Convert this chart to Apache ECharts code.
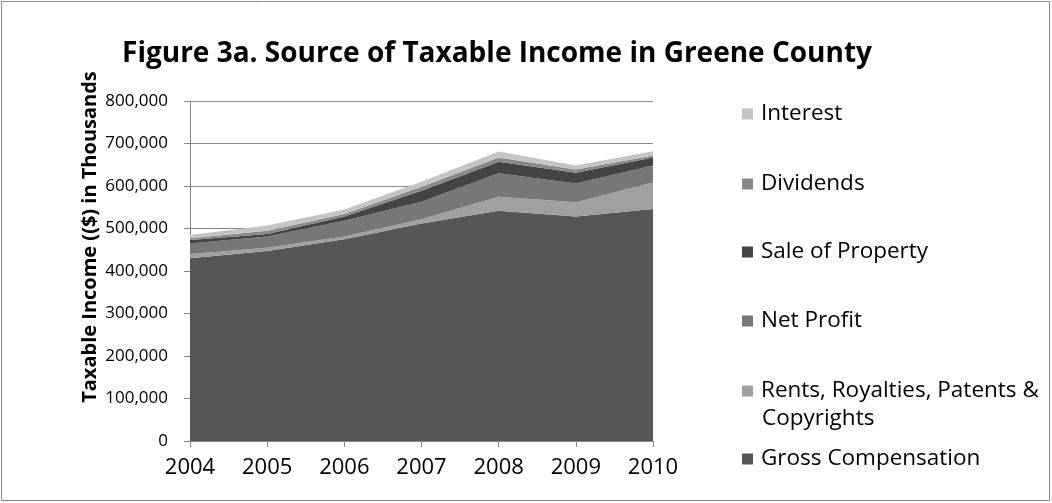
<!DOCTYPE html>
<html><head><meta charset="utf-8">
<script src="https://cdn.jsdelivr.net/npm/echarts@6/dist/echarts.min.js"></script>
<style>html,body{margin:0;padding:0;background:#fff}#c{width:1052px;height:503px}</style>
</head><body><div id="c"></div>
<script>
const years = ['2004','2005','2006','2007','2008','2009','2010'];
const grossCompensation = [430000,447000,475000,512000,542000,528000,546000];
const rentsRoyalties   = [10000,8000,6000,10000,33000,34000,62000];
const netProfit        = [25000,26000,37000,41000,55000,44000,40000];
const saleOfProperty   = [8000,6000,10000,26000,27000,25000,19000];
const dividends        = [4000,8000,6000,9000,10000,8000,5000];
const interest         = [8000,12000,11000,12000,14000,9000,10000];
const yTicks = [0,100000,200000,300000,400000,500000,600000,700000,800000];

const FONT = '"Open Sans", "Noto Sans", sans-serif';
const seriesDefs = [
  {name:'Gross Compensation', label:'Gross Compensation', data:grossCompensation, color:'#565656', legendTop:445},
  {name:'Rents, Royalties, Patents & Copyrights', label:'Rents, Royalties, Patents &', data:rentsRoyalties, color:'#a0a0a0', legendTop:377},
  {name:'Net Profit', label:'Net Profit', data:netProfit, color:'#777777', legendTop:307},
  {name:'Sale of Property', label:'Sale of Property', data:saleOfProperty, color:'#444444', legendTop:238},
  {name:'Dividends', label:'Dividends', data:dividends, color:'#8a8a8a', legendTop:170},
  {name:'Interest', label:'Interest', data:interest, color:'#c4c4c4', legendTop:100}
];

const chart = echarts.init(document.getElementById('c'), null, {renderer:'canvas'});
chart.setOption({
  animation:false,
  backgroundColor:'#fff',
  title:{text:'Figure 3a. Source of Taxable Income in Greene County', left:497, top:40, textAlign:'center', padding:0,
    textStyle:{fontFamily:FONT, fontWeight:'bold', fontSize:28, color:'#000'}},
  graphic:[
    {type:'rect', shape:{x:1.5,y:1.5,width:1048,height:499}, style:{fill:'none', stroke:'#888', lineWidth:1}},
    {type:'text', left:762, top:407, style:{text:'Copyrights', font:'22.5px "Open Sans", sans-serif', fill:'#000'}}
  ],
  legend: seriesDefs.map(s=>({
    data:[s.name], left:742, top:s.legendTop, padding:0, orient:'vertical', itemWidth:11, itemHeight:11, itemGap:0,
    icon:'rect', formatter:()=>s.label,
    textStyle:{fontFamily:FONT, fontSize:22.5, color:'#000', lineHeight:28, padding:[0,0,0,3]}
  })),
  grid:{left:190, right:399, top:101, bottom:62},
  xAxis:{type:'category', data:years, boundaryGap:false,
    axisLine:{lineStyle:{color:'#888'}}, axisTick:{show:true, alignWithLabel:true, length:6, lineStyle:{color:'#888'}},
    axisLabel:{fontFamily:FONT, fontSize:22, color:'#000', margin:16}},
  yAxis:{type:'value', min:0, max:800000, interval:100000,
    name:'Taxable Income (($) in Thousands', nameLocation:'middle', nameGap:90, nameRotate:90, nameMoveOverlap:false,
    nameTextStyle:{fontFamily:FONT, fontWeight:'bold', fontSize:20, color:'#000', padding:[0,0,0,68]},
    axisLine:{show:true, lineStyle:{color:'#888'}}, axisTick:{show:true, length:6, lineStyle:{color:'#888'}},
    splitLine:{lineStyle:{color:'#888'}},
    axisLabel:{fontFamily:FONT, fontSize:17, color:'#000', margin:22,
      formatter:v=>yTicks.includes(v)?v.toLocaleString('en-US'):''}},
  series: seriesDefs.map(s=>({
    name:s.name, type:'line', stack:'total', data:s.data, symbol:'none',
    lineStyle:{width:0}, areaStyle:{color:s.color, opacity:1}, itemStyle:{color:s.color}
  }))
});
</script></body></html>
